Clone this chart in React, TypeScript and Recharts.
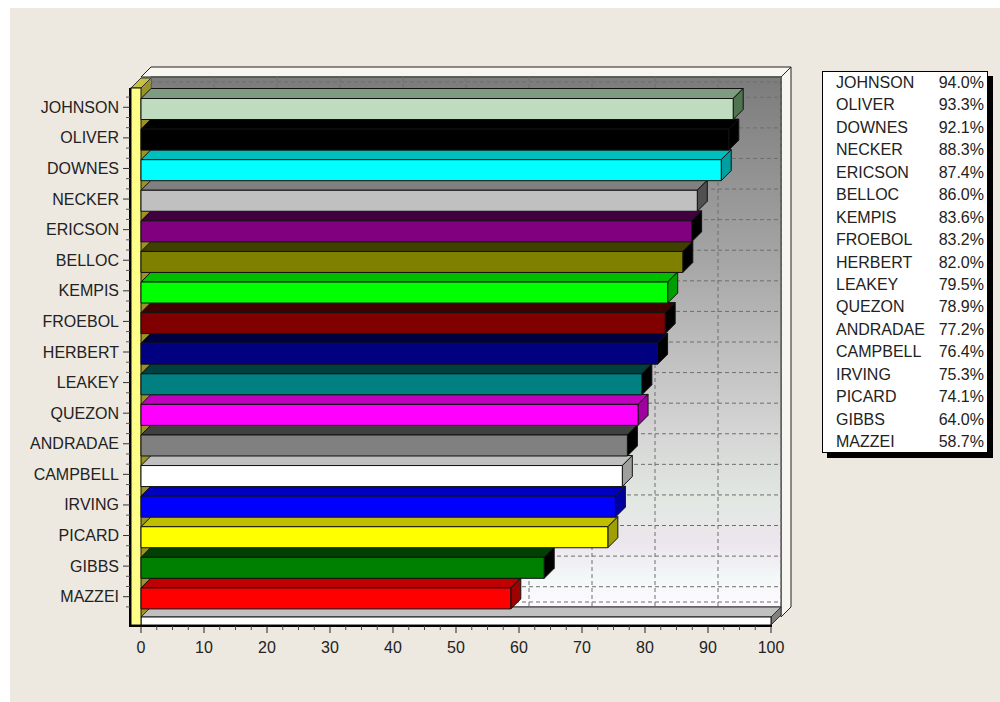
import React from 'react'
import { BarChart, Bar, XAxis, YAxis, CartesianGrid } from 'recharts'

const names = [
  'JOHNSON', 'OLIVER', 'DOWNES', 'NECKER', 'ERICSON', 'BELLOC', 'KEMPIS', 'FROEBOL', 'HERBERT',
  'LEAKEY', 'QUEZON', 'ANDRADAE', 'CAMPBELL', 'IRVING', 'PICARD', 'GIBBS', 'MAZZEI',
]
const scores = [94.0, 93.3, 92.1, 88.3, 87.4, 86.0, 83.6, 83.2, 82.0, 79.5, 78.9, 77.2, 76.4, 75.3, 74.1, 64.0, 58.7]
const xTicks = [0, 10, 20, 30, 40, 50, 60, 70, 80, 90, 100]

// bar colours, one per name
const palette = [
  '#C0DCC0', '#000000', '#00FFFF', '#C0C0C0', '#800080', '#808000', '#00FF00', '#800000', '#000080',
  '#008080', '#FF00FF', '#808080', '#FFFFFF', '#0000FF', '#FFFF00', '#008000', '#FF0000',
]

const FONT = '"Liberation Sans", Arial, sans-serif'
const W = 1000
const H = 702
const PLOT_LEFT = 141
const PLOT_RIGHT = 771
const PLOT_TOP = 92
const PLOT_BOTTOM = 612
const DX = 10 // depth offset
const DY = 10
const WALL_TOP = 77
const FLOOR_BACK = 607
const FLOOR_FRONT = 617
const AXIS_Y = 625

// rows drawn bottom-up so upper bars cover the tops of lower ones
const rows = names.map((name, i) => ({ name, value: scores[i], color: palette[i] })).reverse()

const shade = (hex: string, fn: (v: number) => number) => {
  const n = parseInt(hex.slice(1), 16)
  const ch = [(n >> 16) & 255, (n >> 8) & 255, n & 255].map(v => Math.max(0, Math.min(255, Math.round(fn(v)))))
  return `rgb(${ch[0]},${ch[1]},${ch[2]})`
}
const topColor = (c: string) => shade(c, v => v - 64)
const sideColor = (c: string) => shade(c, v => v * 1.25 - 160)

const Bar3D = (props: any) => {
  const { x, y, width, height, payload } = props
  const c = payload.color
  const yy = y + 1.5
  const x2 = x + width
  return (
    <g stroke="#111" strokeWidth={1} strokeLinejoin="round">
      <polygon points={`${x},${yy} ${x2},${yy} ${x2 + DX},${yy - DY} ${x + DX},${yy - DY}`} fill={topColor(c)} />
      <polygon points={`${x2},${yy} ${x2 + DX},${yy - DY} ${x2 + DX},${yy + height - DY} ${x2},${yy + height}`} fill={sideColor(c)} />
      <rect x={x} y={yy} width={width} height={height} fill={c} />
    </g>
  )
}

const XTick = (props: any) => {
  const { x, payload } = props
  const step = (PLOT_RIGHT - PLOT_LEFT) / 40
  const minors = payload.value < 100 ? [1, 2, 3] : []
  return (
    <g>
      <line x1={x} x2={x} y1={AXIS_Y + 1} y2={AXIS_Y + 8} stroke="#222" />
      {minors.map(k => (
        <line key={k} x1={x + k * step} x2={x + k * step} y1={AXIS_Y + 1} y2={AXIS_Y + 5} stroke="#444" />
      ))}
      <text x={x} y={653} textAnchor="middle" fontSize={16} fontFamily={FONT} fill="#222">{payload.value}</text>
    </g>
  )
}

const YTick = (props: any) => {
  const { y, payload } = props
  const band = (PLOT_BOTTOM - PLOT_TOP) / names.length
  return (
    <g>
      <line x1={123} x2={130} y1={y} y2={y} stroke="#333" />
      <line x1={126} x2={130} y1={y - band / 3} y2={y - band / 3} stroke="#555" />
      <line x1={126} x2={130} y1={y + band / 3} y2={y + band / 3} stroke="#555" />
      <text x={119} y={y} dy={5.5} textAnchor="end" fontSize={16} fontFamily={FONT} fill="#222">{payload.value}</text>
    </g>
  )
}

const gridH = (p: any) => (
  <line key={p.key ?? p.index} x1={PLOT_LEFT + DX} x2={PLOT_RIGHT + DX} y1={p.y1 - DY} y2={p.y2 - DY}
    stroke="#6e6e6e" strokeDasharray="4 3" />
)
const gridV = (p: any) => (
  <line key={p.key ?? p.index} x1={p.x1 + DX} x2={p.x2 + DX} y1={WALL_TOP} y2={FLOOR_BACK}
    stroke="#6e6e6e" strokeDasharray="4 3" />
)

function Walls() {
  const BL = PLOT_LEFT + DX
  const BR = PLOT_RIGHT + DX
  return (
    <svg width={W} height={H} style={{ position: 'absolute', left: 0, top: 0 }}>
      <defs>
        <linearGradient id="wall" x1="0" y1="0" x2="0" y2="1">
          <stop offset="0" stopColor="#7c7c7c" />
          <stop offset="0.35" stopColor="#a6a6a6" />
          <stop offset="0.65" stopColor="#d2d2d2" />
          <stop offset="0.8" stopColor="#e2e8e2" />
          <stop offset="0.88" stopColor="#ece6ee" />
          <stop offset="0.95" stopColor="#f4f8f8" />
          <stop offset="1" stopColor="#fff8ff" />
        </linearGradient>
      </defs>
      <rect x={10} y={8} width={W - 10} height={H - 8} fill="#ede8e0" />
      {/* back wall thickness */}
      <polygon points={`${PLOT_LEFT},${WALL_TOP} ${BL},${WALL_TOP - 10} ${BR + 10},${WALL_TOP - 10} ${BR + 10},${FLOOR_BACK} ${BR},${FLOOR_FRONT} ${BR},${WALL_TOP}`}
        fill="#f7f5f0" stroke="#222" strokeWidth={1} />
      <line x1={BR} y1={WALL_TOP} x2={BR + 10} y2={WALL_TOP - 10} stroke="#222" />
      <rect x={BL} y={WALL_TOP} width={BR - BL} height={FLOOR_BACK - WALL_TOP} fill="url(#wall)" stroke="#333" strokeWidth={1} />
      {/* left wall side */}
      <polygon points={`${PLOT_LEFT},${WALL_TOP + 11} ${BL},${WALL_TOP + 1} ${BL},${FLOOR_BACK} ${PLOT_LEFT},${FLOOR_FRONT}`} fill="#9a9428" />
      {/* floor */}
      <polygon points={`${PLOT_LEFT},${FLOOR_FRONT} ${PLOT_RIGHT},${FLOOR_FRONT} ${BR},${FLOOR_BACK} ${BL},${FLOOR_BACK}`} fill="#c0c0c0" stroke="#333" />
      <polygon points={`${PLOT_RIGHT},${FLOOR_FRONT} ${BR},${FLOOR_BACK} ${BR},${FLOOR_BACK + 8} ${PLOT_RIGHT},${AXIS_Y}`} fill="#808080" stroke="#333" />
      <rect x={PLOT_LEFT} y={FLOOR_FRONT} width={PLOT_RIGHT - PLOT_LEFT} height={AXIS_Y - FLOOR_FRONT} fill="#fff" stroke="#111" />
      {/* left wall front face and cap */}
      <polygon points={`131,${WALL_TOP + 11} ${PLOT_LEFT},${WALL_TOP + 11} ${BL},${WALL_TOP + 1} ${PLOT_LEFT},${WALL_TOP + 1}`} fill="#c8c040" stroke="#333" />
      <rect x={131} y={WALL_TOP + 11} width={PLOT_LEFT - 131} height={AXIS_Y - WALL_TOP - 11} fill="#ffff88" stroke="#111" />
      <line x1={130} y1={WALL_TOP + 11} x2={130} y2={AXIS_Y + 1} stroke="#000" strokeWidth={2} />
      <line x1={129} y1={AXIS_Y + 1} x2={PLOT_RIGHT + 1} y2={AXIS_Y + 1} stroke="#000" strokeWidth={2} />
    </svg>
  )
}

function LegendBox() {
  return (
    <div style={{
      position: 'absolute', left: 822, top: 71, width: 164, height: 380, background: '#fff',
      border: '1px solid #000', boxShadow: '5px 5px 0 #000', fontFamily: FONT, fontSize: 16, color: '#222',
    }}>
      {names.map((n, i) => (
        <div key={n} style={{ display: 'flex', justifyContent: 'space-between', height: 22.44, lineHeight: '22.44px', padding: '0 3px 0 13px' }}>
          <span>{n}</span>
          <span>{scores[i].toFixed(1)}%</span>
        </div>
      ))}
    </div>
  )
}

export default function App() {
  return (
    <div style={{ position: 'absolute', left: 0, top: 0, width: W, height: H, background: '#fff', overflow: 'hidden' }}>
      <Walls />
      <div style={{ position: 'absolute', left: 0, top: 0 }}>
        <BarChart width={W} height={H} data={rows} layout="vertical"
          margin={{ top: PLOT_TOP, right: W - PLOT_RIGHT, bottom: H - PLOT_BOTTOM - 30, left: 0 }}>
          <CartesianGrid horizontal={gridH} vertical={gridV} />
          <XAxis type="number" domain={[0, 100]} ticks={xTicks} interval={0} height={30}
            axisLine={false} tickLine={false} tick={<XTick />} />
          <YAxis type="category" dataKey="name" width={PLOT_LEFT} reversed interval={0}
            axisLine={false} tickLine={false} tick={<YTick />} />
          <Bar dataKey="value" barSize={21} shape={Bar3D} isAnimationActive={false} />
        </BarChart>
      </div>
      <LegendBox />
    </div>
  )
}
